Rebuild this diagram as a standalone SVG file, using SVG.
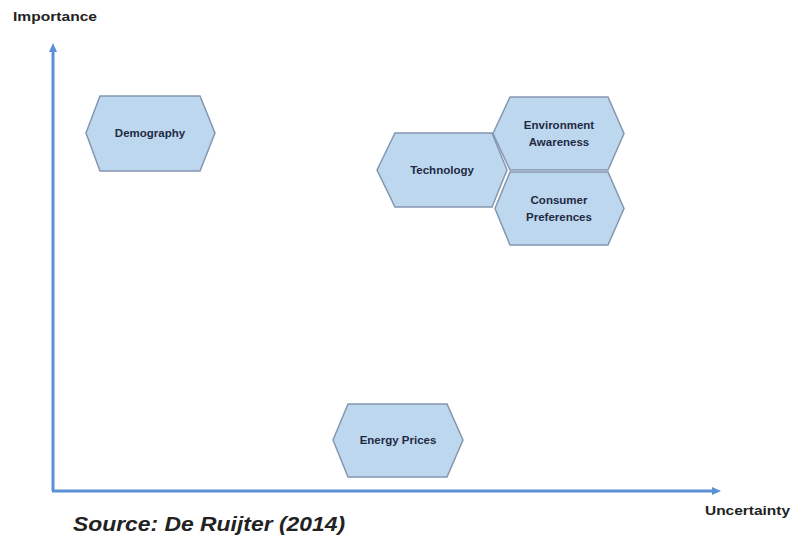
<svg xmlns="http://www.w3.org/2000/svg" width="792" height="541" viewBox="0 0 792 541">
<style>
.hex{fill:#bdd7ee;stroke:#8497b0;stroke-width:1.5}
.lbl{font-family:"Liberation Sans",Arial,sans-serif;font-size:11.5px;font-weight:bold;fill:#1f2a44;text-anchor:middle}
.ax{font-family:"Liberation Sans",Arial,sans-serif;font-size:13px;font-weight:bold;fill:#222}
.axis{stroke:#5b8fd6;stroke-width:3;fill:none}
</style>
<defs>
<marker id="ah" markerWidth="10" markerHeight="10" refX="2" refY="5" orient="auto" markerUnits="userSpaceOnUse">
<path d="M0,1 L9,5 L0,9 Z" fill="#5b8fd6"/>
</marker>
</defs>
<rect width="792" height="541" fill="#ffffff"/>
<g id="connectors">
<path class="axis" d="M53,491 L53,50" marker-end="url(#ah)"/>
<path class="axis" d="M52,491 L714,491" marker-end="url(#ah)"/>
</g>
<text class="ax" x="13" y="21" textLength="84" lengthAdjust="spacingAndGlyphs">Importance</text>
<text class="ax" x="705" y="515" textLength="85" lengthAdjust="spacingAndGlyphs">Uncertainty</text>
<g id="demography">
<polygon class="hex" points="86,133 100,96 200,96 215,133 200,171 100,171"/>
<text class="lbl" x="150" y="137">Demography</text>
</g>
<g id="technology">
<polygon class="hex" points="377,170 395,133 492,133 507,170 492,207 395,207"/>
<text class="lbl" x="442" y="174">Technology</text>
</g>
<g id="environment">
<polygon class="hex" points="493,133.5 510,97 608,97 624,133.5 608,170 510,170"/>
<text class="lbl" x="559" y="129">Environment</text>
<text class="lbl" x="559" y="146">Awareness</text>
</g>
<g id="consumer">
<polygon class="hex" points="495,208.5 510,172 608,172 624,208.5 608,245 510,245"/>
<text class="lbl" x="559" y="204">Consumer</text>
<text class="lbl" x="559" y="221">Preferences</text>
</g>
<g id="energy">
<polygon class="hex" points="333,440 348,404 447,404 463,440 447,477 348,477"/>
<text class="lbl" x="398" y="444">Energy Prices</text>
</g>
<text x="73" y="531" font-family="'Liberation Sans',Arial,sans-serif" font-size="21" font-style="italic" font-weight="bold" fill="#222" textLength="272" lengthAdjust="spacingAndGlyphs">Source: De Ruijter (2014)</text>
</svg>
